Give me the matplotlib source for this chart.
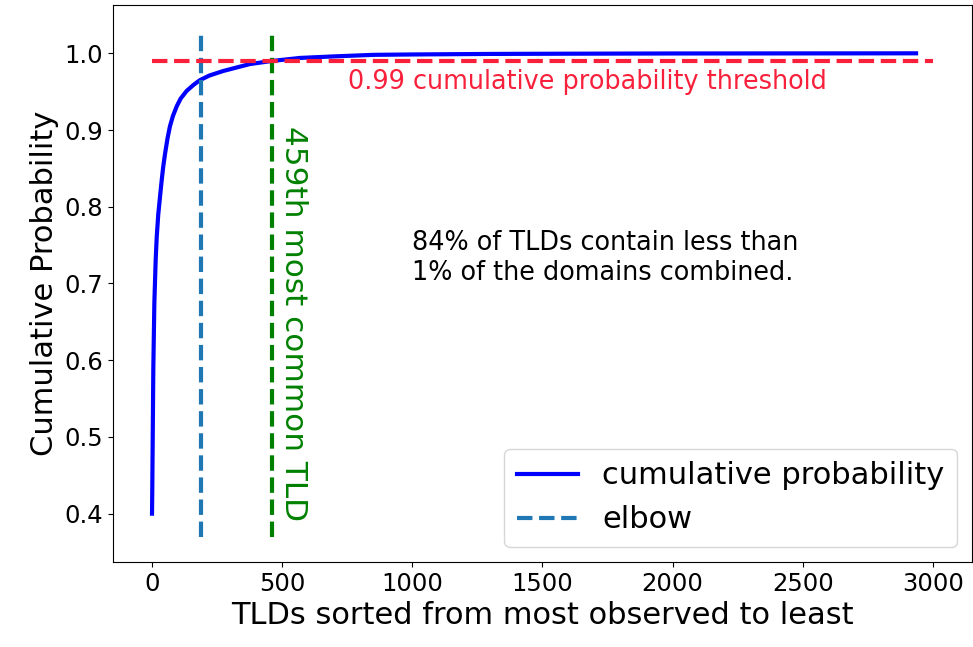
import matplotlib
matplotlib.use("Agg")
import matplotlib.pyplot as plt

# cumulative probability
tld_rank = [0, 1, 3, 5, 9, 14, 18, 24, 31, 37, 43, 50, 60, 69, 80, 95, 110, 133, 160,
            184, 220, 274, 376, 460, 569, 700, 850, 1000, 1300, 1600, 2000, 2500, 2935]
cum_prob = [0.40, 0.43, 0.51, 0.589, 0.675, 0.73, 0.760, 0.790, 0.814, 0.834, 0.852,
            0.869, 0.890, 0.905, 0.918, 0.931, 0.941, 0.951, 0.959, 0.965, 0.971, 0.977,
            0.986, 0.990, 0.994, 0.996, 0.998, 0.9985, 0.9992, 0.9995, 0.9998, 0.9999,
            1.0]

elbow_x = 188
threshold_x = 459
threshold_y = 0.99
x_end = 3000

fig = plt.figure(figsize=(9.73, 6.47), dpi=100)
ax = fig.add_axes([0.1161, 0.1314, 0.8829, 0.8609])

ax.plot(tld_rank, cum_prob, color="blue", lw=3, label="cumulative probability")
ax.vlines(elbow_x, 0.37, 1.03, colors="#1f77b4", linestyles="dashed", lw=3, label="elbow")
ax.vlines(threshold_x, 0.37, 1.03, colors="green", linestyles="dashed", lw=3)
ax.hlines(threshold_y, 0, x_end, colors="#f8203a", linestyles="dashed", lw=3)

ax.text(753, 0.962, "0.99 cumulative probability threshold", color="#f8203a",
        fontsize=18.4, ha="left", va="center")
ax.text(542, 0.648, "459th most common TLD", color="green", fontsize=22.4,
        rotation=270, ha="center", va="center")
ax.text(1000, 0.733, "84% of TLDs contain less than\n1% of the domains combined.",
        fontsize=18.4, ha="left", va="center")

ax.set_xlabel("TLDs sorted from most observed to least", fontsize=22)
ax.set_ylabel("Cumulative Probability", fontsize=22)
ax.tick_params(labelsize=17.5)
ax.legend(loc="lower right", fontsize=22)

fig.savefig("out.png", dpi=100)
